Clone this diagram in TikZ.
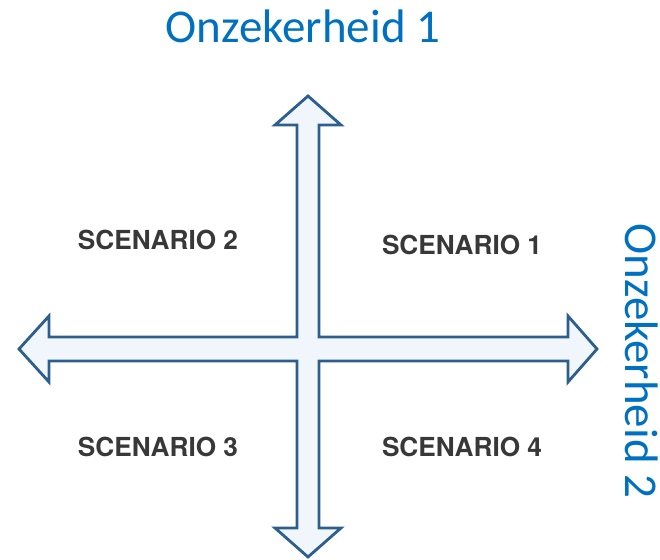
\documentclass[tikz,border=0pt]{standalone}
\usepackage{fontspec}
\setmainfont{TeX Gyre Heros}
\newfontfamily\axisfont{Carlito}
\definecolor{axisblue}{HTML}{0070C0}
\definecolor{arrowline}{HTML}{2C5E8E}
\definecolor{arrowfill}{HTML}{F1F6FC}
\definecolor{scentext}{HTML}{383838}
\begin{document}
\begin{tikzpicture}[x=1pt,y=-1pt,
  scen/.style={font=\fontsize{26.2}{27}\selectfont\bfseries, text=scentext, inner sep=0pt, anchor=center},
  axis/.style={font=\axisfont\fontsize{47}{48}\selectfont, text=axisblue, inner sep=0pt},
  crossarrow/.style={draw=arrowline, fill=arrowfill, line width=2.8pt, line join=miter}]
\useasboundingbox (0,0) rectangle (660,559);
% both double arrows drawn as one outline so the crossing stays open
\draw[crossarrow]
  (308,96) -- (341,125) -- (319,125) -- (319,337) -- (568,337) -- (568,316)
  -- (597,349) -- (568,382) -- (568,361) -- (319,361) -- (319,528) -- (341,528)
  -- (308,557) -- (275,528) -- (297,528) -- (297,361) -- (49,361) -- (49,382)
  -- (19,349) -- (49,316) -- (49,337) -- (297,337) -- (297,125) -- (275,125) -- cycle;
\node[scen] (s1) at (462,245) {SCENARIO 1};
\node[scen] (s2) at (158,240) {SCENARIO 2};
\node[scen] (s3) at (158,447) {SCENARIO 3};
\node[scen] (s4) at (462,447) {SCENARIO 4};
\node[axis, anchor=base] (u1) at (303,43) {Onzekerheid 1};
\node[axis, rotate=-90, anchor=base] (u2) at (625,361) {Onzekerheid 2};
\end{tikzpicture}
\end{document}
